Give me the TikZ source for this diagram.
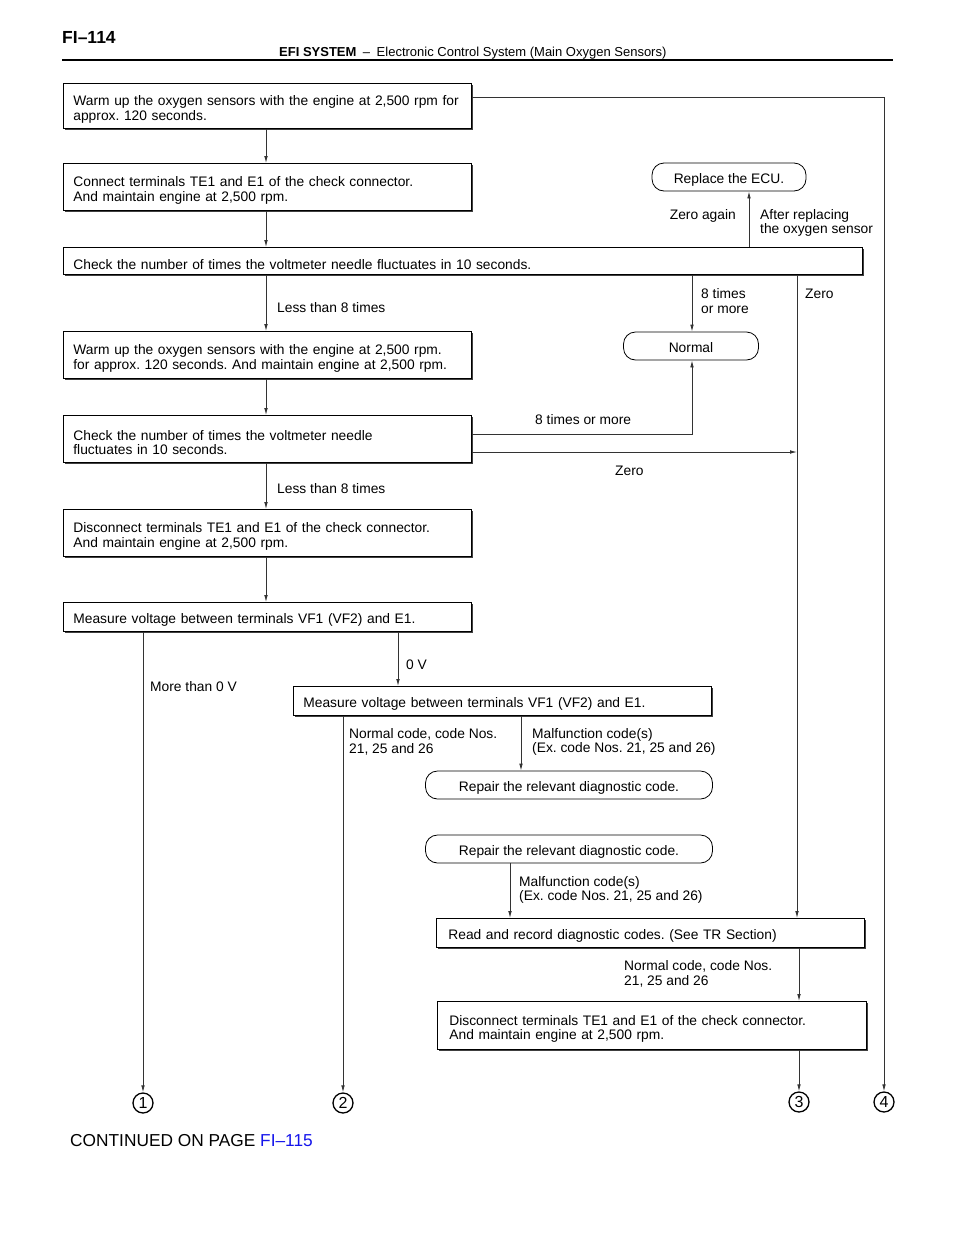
\documentclass[tikz,border=0pt]{standalone}
\usepackage{fontspec}
\setmainfont{Liberation Sans}
\usetikzlibrary{arrows.meta,shadows}
\frenchspacing

\tikzset{
    stepbox/.style={draw, fill=white, line width=0.8pt, anchor=north west, align=left,
        inner xsep=10pt, inner ysep=0pt, execute at begin node={\rule{0pt}{17pt}},
        drop shadow={shadow xshift=1.2pt, shadow yshift=-1.2pt, fill=black!75, opacity=1}},
    endbox/.style={draw, fill=white, line width=0.8pt, rounded corners=12pt, align=center,
        minimum height=28pt, inner sep=0pt, text height=13pt, text depth=0pt},
    lbl/.style={anchor=west, align=left, inner sep=0pt},
    flow/.style={line width=0.8pt, black!80, -{Latex[length=7pt,width=3.6pt]}},
    pagemark/.style={draw, circle, line width=1.3pt, inner sep=0pt, minimum size=20pt,
        font=\fontsize{16}{16}\selectfont}
}

\begin{document}
\begin{tikzpicture}[x=1pt, y=-1pt, font=\fontsize{13.8}{14.6}\selectfont]
    \useasboundingbox (0,0) rectangle (960,1242);

    % header
    \node[anchor=base west, inner sep=0pt, font=\bfseries\fontsize{17.5}{17.5}\selectfont] (page) at (62,43) {FI--114};
    \node[anchor=base west, inner sep=0pt, font=\fontsize{13}{13}\selectfont] (title) at (279,56)
        {\textbf{EFI SYSTEM}\enspace--\enspace Electronic Control System (Main Oxygen Sensors)};
    \draw[line width=1.5pt] (62,60) -- (893,60);

    % columns and rows
    \coordinate (colA) at (266,0);
    \coordinate (colB) at (692,0);
    \coordinate (colC) at (797,0);
    \coordinate (colD) at (884,0);
    \coordinate (colE) at (749,0);
    \coordinate (colF) at (143,0);
    \coordinate (colG) at (398,0);
    \coordinate (colH) at (343,0);
    \coordinate (colI) at (521,0);
    \coordinate (colJ) at (510,0);
    \coordinate (colK) at (799,0);
    \coordinate (rowA) at (0,97);
    \coordinate (rowB) at (0,434);
    \coordinate (rowC) at (0,452);

    % steps
    \node[stepbox, text width=388pt, minimum height=45pt] (warm1) at (63,83)
        {Warm up the oxygen sensors with the engine at 2,500 rpm for\\approx. 120 seconds.};
    \node[stepbox, text width=388pt, minimum height=47pt] (conn) at (63,163)
        {Connect terminals TE1 and E1 of the check connector.\\And maintain engine at 2,500 rpm.};
    \node[stepbox, text width=779pt, minimum height=27pt] (check1) at (63,247)
        {Check the number of times the voltmeter needle fluctuates in 10 seconds.};
    \node[stepbox, text width=388pt, minimum height=47pt] (warm2) at (63,331)
        {Warm up the oxygen sensors with the engine at 2,500 rpm.\\for approx. 120 seconds. And maintain engine at 2,500 rpm.};
    \node[stepbox, text width=388pt, minimum height=47pt] (check2) at (63,415)
        {Check the number of times the voltmeter needle\\fluctuates in 10 seconds.};
    \node[stepbox, text width=388pt, minimum height=47pt] (disc1) at (63,509)
        {Disconnect terminals TE1 and E1 of the check connector.\\And maintain engine at 2,500 rpm.};
    \node[stepbox, text width=388pt, minimum height=29pt] (meas1) at (63,602)
        {Measure voltage between terminals VF1 (VF2) and E1.};
    \node[stepbox, text width=398pt, minimum height=29pt] (meas2) at (293,686)
        {Measure voltage between terminals VF1 (VF2) and E1.};
    \node[stepbox, text width=404pt, minimum height=29pt, inner xsep=12pt] (read) at (436,918)
        {Read and record diagnostic codes. (See TR Section)};
    \node[stepbox, text width=405pt, minimum height=48pt, inner xsep=12pt] (disc2) at (437,1001)
        {Disconnect terminals TE1 and E1 of the check connector.\\And maintain engine at 2,500 rpm.};

    % end boxes
    \node[endbox, minimum width=154pt] (ecu) at (729,177) {Replace the ECU.};
    \node[endbox, minimum width=135pt] (normal) at (691,346) {Normal};
    \node[endbox, minimum width=287pt] (repair1) at (569,785) {Repair the relevant diagnostic code.};
    \node[endbox, minimum width=287pt] (repair2) at (569,849) {Repair the relevant diagnostic code.};

    % continuation marks
    \node[pagemark] (c1) at (143,1103) {1};
    \node[pagemark] (c2) at (343,1103) {2};
    \node[pagemark] (c3) at (799,1102) {3};
    \node[pagemark] (c4) at (884,1102) {4};

    % connectors
    \draw[flow] (warm1.south -| colA) -- (conn.north -| colA);
    \draw[flow] (conn.south -| colA) -- (check1.north -| colA);
    \draw[flow] (check1.north -| colE) -- (ecu.south -| colE);
    \draw[flow] (check1.south -| colB) -- (normal.north -| colB);
    \draw[flow] (check1.south -| colC) -- (read.north -| colC);
    \draw[flow] (check1.south -| colA) -- (warm2.north -| colA);
    \draw[flow] (warm2.south -| colA) -- (check2.north -| colA);
    \draw[flow] (check2.east |- rowB) -| (normal.south -| colB);
    \draw[flow] (check2.east |- rowC) -- (rowC -| colC);
    \draw[flow] (check2.south -| colA) -- (disc1.north -| colA);
    \draw[flow] (disc1.south -| colA) -- (meas1.north -| colA);
    \draw[flow] (meas1.south -| colF) -- (c1.north -| colF);
    \draw[flow] (meas1.south -| colG) -- (meas2.north -| colG);
    \draw[flow] (meas2.south -| colH) -- (c2.north -| colH);
    \draw[flow] (meas2.south -| colI) -- (repair1.north -| colI);
    \draw[flow] (repair2.south -| colJ) -- (read.north -| colJ);
    \draw[flow] (read.south -| colK) -- (disc2.north -| colK);
    \draw[flow] (disc2.south -| colK) -- (c3.north -| colK);
    \draw[flow] (warm1.east |- rowA) -| (c4.north -| colD);

    % branch labels
    \node[lbl, anchor=east] (zeroagain) at (736,216) {Zero again};
    \node[lbl] (afterrepl) at (760,223) {After replacing\\the oxygen sensor};
    \node[lbl] (eightA) at (701,301) {8 times\\or more};
    \node[lbl] (zeroA) at (805,294) {Zero};
    \node[lbl] (lessA) at (277,308) {Less than 8 times};
    \node[lbl] (eightB) at (535,420) {8 times or more};
    \node[lbl] (zeroB) at (615,471) {Zero};
    \node[lbl] (lessB) at (277,489) {Less than 8 times};
    \node[lbl] (morev) at (150,687) {More than 0 V};
    \node[lbl] (zerov) at (406,665) {0 V};
    \node[lbl] (normcodeA) at (349,742) {Normal code, code Nos.\\21, 25 and 26};
    \node[lbl] (malcodeA) at (532,742) {Malfunction code(s)\\(Ex. code Nos. 21, 25 and 26)};
    \node[lbl] (malcodeB) at (519,890) {Malfunction code(s)\\(Ex. code Nos. 21, 25 and 26)};
    \node[lbl] (normcodeB) at (624,974) {Normal code, code Nos.\\21, 25 and 26};

    % footer
    \node[anchor=base west, inner sep=0pt, font=\fontsize{17.3}{17.3}\selectfont] (cont) at (70,1146)
        {CONTINUED ON PAGE \textcolor[RGB]{20,20,235}{FI--115}};
\end{tikzpicture}
\end{document}
